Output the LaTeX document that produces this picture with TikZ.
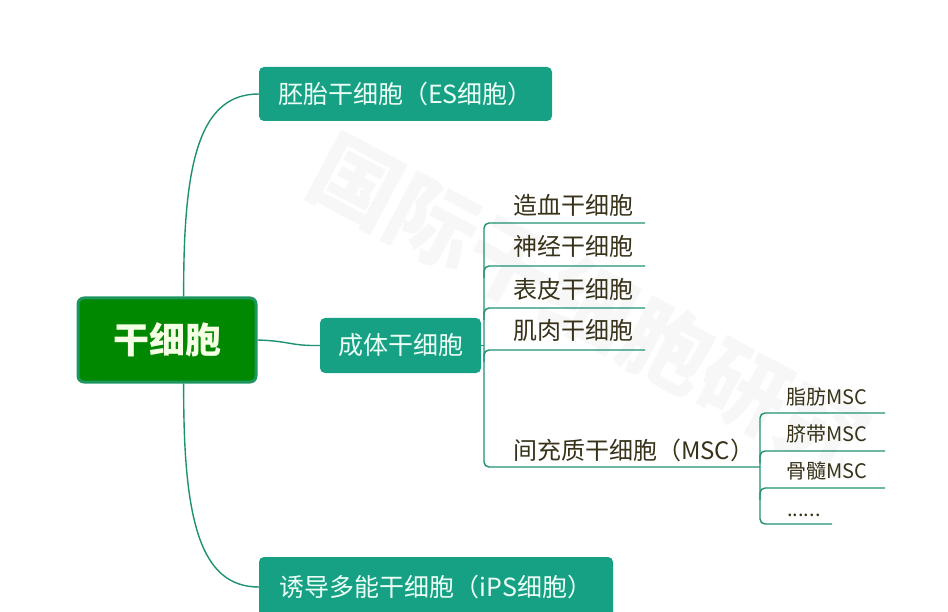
\documentclass[tikz,border=0pt]{standalone}
\usepackage{fontspec}
\setmainfont{Noto Sans CJK SC}
\definecolor{boxteal}{RGB}{22,160,132}
\definecolor{conncol}{RGB}{30,145,115}
\definecolor{rootfill}{RGB}{0,136,0}
\definecolor{rootline}{RGB}{28,150,95}
\definecolor{boxtext}{RGB}{236,255,246}
\definecolor{roottext}{RGB}{245,255,228}
\definecolor{leaftext}{RGB}{55,50,25}
\definecolor{wmark}{RGB}{247,247,247}
\tikzset{
  rootbox/.style={draw=rootline, line width=3, fill=rootfill, rounded corners=6,
    minimum width=178, minimum height=84, text=roottext,
    font=\fontsize{36}{40}\selectfont\bfseries},
  tealbox/.style={fill=boxteal, rounded corners=5, text=boxtext, inner sep=0,
    font=\fontsize{25}{30}\selectfont},
  leaf/.style={text=leaftext, inner sep=0, anchor=west, font=\fontsize{24}{28}\selectfont},
  subleaf/.style={text=leaftext, inner sep=0, anchor=west, font=\fontsize{20}{24}\selectfont},
  conn/.style={draw=conncol, line width=1.4},
}
\begin{document}
\begin{tikzpicture}[x=1pt,y=1pt]
\useasboundingbox (0,0) rectangle (948,-612);
% watermark
\node[text=wmark, rotate=-28, font=\fontsize{88}{90}\selectfont\bfseries] (wm) at (590,-305) {国际干细胞研究};

% main nodes
\node[rootbox] (root) at (167,-340) {干细胞};
\node[tealbox, minimum width=293, minimum height=54] (es) at (405.5,-94) {胚胎干细胞（ES细胞）};
\node[tealbox, minimum width=161, minimum height=55] (adult) at (400.5,-345.5) {成体干细胞};
\node[tealbox, minimum width=354, minimum height=60] (ips) at (436,-587) {诱导多能干细胞（iPS细胞）};

% adult children
\node[leaf] (c1) at (513,-205) {造血干细胞};
\node[leaf] (c2) at (513,-246) {神经干细胞};
\node[leaf] (c3) at (513,-289) {表皮干细胞};
\node[leaf] (c4) at (513,-330) {肌肉干细胞};
\node[leaf] (c5) at (513,-450) {间充质干细胞（MSC）};
\coordinate (c1l) at (484,-223); \coordinate (c1r) at (645,-223);
\coordinate (c2l) at (484,-266); \coordinate (c2r) at (645,-266);
\coordinate (c3l) at (484,-308); \coordinate (c3r) at (645,-308);
\coordinate (c4l) at (484,-350); \coordinate (c4r) at (645,-350);
\coordinate (c5l) at (484,-467); \coordinate (c5r) at (760,-467);

% MSC children
\node[subleaf] (m1) at (786,-397) {脂肪MSC};
\node[subleaf] (m2) at (786,-434) {脐带MSC};
\node[subleaf] (m3) at (786,-471) {骨髓MSC};
\node[subleaf, anchor=base west] (m4) at (787,-516) {......};
\coordinate (m1l) at (760,-413); \coordinate (m1r) at (885,-413);
\coordinate (m2l) at (760,-451); \coordinate (m2r) at (885,-451);
\coordinate (m3l) at (760,-488); \coordinate (m3r) at (885,-488);
\coordinate (m4l) at (760,-524); \coordinate (m4r) at (832,-524);

% connectors from root
\draw[conn] (root.69) .. controls (183,-160) and (200,-94) .. (es.west);
\draw[conn] (root.-69) .. controls (183,-520) and (200,-587) .. (ips.west);
\draw[conn] (root.east) .. controls (290,-341) and (290,-346) .. (adult.west);

% adult bus
\draw[conn] (adult.east) -- (adult.east -| c1l);
\draw[conn, rounded corners=5] (c1r) -- (c1l) -- (c5l) -- (c5r);
\draw[conn, rounded corners=5] (c2r) -- (c2l) -- ++(0,-12);
\draw[conn, rounded corners=5] (c3r) -- (c3l) -- ++(0,-12);
\draw[conn, rounded corners=5] (c4r) -- (c4l) -- ++(0,-12);

% MSC bus
\draw[conn, rounded corners=5] (m1r) -- (m1l) -- (m4l) -- (m4r);
\draw[conn, rounded corners=5] (m2r) -- (m2l) -- ++(0,-12);
\draw[conn, rounded corners=5] (m3r) -- (m3l) -- ++(0,-12);
\end{tikzpicture}
\end{document}
